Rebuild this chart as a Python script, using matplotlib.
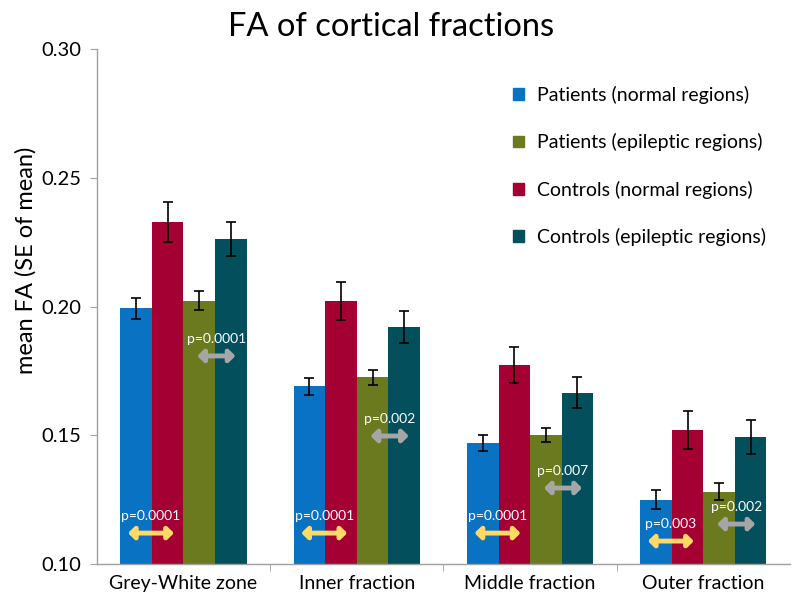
import numpy as np
import matplotlib as mpl
mpl.use("Agg")
import matplotlib.pyplot as plt
from matplotlib.patches import Patch

plt.rcParams["font.family"] = ["Lato", "DejaVu Sans"]

groups = ["Grey-White zone", "Inner fraction", "Middle fraction", "Outer fraction"]

# bar order within each group: patients normal, controls normal, patients epileptic, controls epileptic
pat_normal = [0.1993, 0.1690, 0.1469, 0.1249]
pat_normal_se = [0.0041, 0.0034, 0.0031, 0.0037]
ctl_normal = [0.2327, 0.2021, 0.1773, 0.1522]
ctl_normal_se = [0.0078, 0.0073, 0.0069, 0.0074]
pat_epi = [0.2023, 0.1725, 0.1502, 0.1281]
pat_epi_se = [0.0038, 0.0030, 0.0028, 0.0032]
ctl_epi = [0.2263, 0.1920, 0.1665, 0.1493]
ctl_epi_se = [0.0067, 0.0063, 0.0061, 0.0065]

# p-values: normal-region comparison (yellow) and epileptic-region comparison (grey)
p_normal = ["p=0.0001", "p=0.0001", "p=0.0001", "p=0.003"]
p_normal_y = [0.1120, 0.1120, 0.1120, 0.1089]
p_epi = ["p=0.0001", "p=0.002", "p=0.007", "p=0.002"]
p_epi_y = [0.1808, 0.1497, 0.1295, 0.1155]

c_blue = "#0A72C2"
c_red = "#A50034"
c_green = "#6B7A1F"
c_teal = "#03505C"
c_yellow = "#FFD966"
c_grey = "#A6A6A6"
c_axis = "#A0A0A0"

fig = plt.figure(figsize=(8.0, 6.03), dpi=100)
ax = fig.add_axes([0.121, 0.0647, 0.8665, 0.854])

x = np.arange(len(groups))
w = 0.182
series = [
    (pat_normal, pat_normal_se, c_blue),
    (ctl_normal, ctl_normal_se, c_red),
    (pat_epi, pat_epi_se, c_green),
    (ctl_epi, ctl_epi_se, c_teal),
]
for k, (vals, se, col) in enumerate(series):
    ax.bar(x + (k - 1.5) * w, vals, w, color=col, zorder=2)
    ax.errorbar(x + (k - 1.5) * w, vals, yerr=se, fmt="none", ecolor="black",
                elinewidth=1.2, capsize=3.5, capthick=1.2, zorder=3)

def p_arrow(x0, x1, y, col, label):
    ax.annotate("", xy=(x0, y), xytext=(x1, y),
                arrowprops=dict(arrowstyle="<|-|>,head_length=0.35,head_width=0.35",
                                color=col, lw=3.5, mutation_scale=10,
                                shrinkA=0, shrinkB=0), zorder=4)
    ax.text((x0 + x1) / 2, y + 0.0042, label, color="white", fontsize=10,
            ha="center", va="bottom", zorder=5)

for i in range(len(groups)):
    p_arrow(i - 0.32, i - 0.055, p_normal_y[i], c_yellow, p_normal[i])
    p_arrow(i + 0.08, i + 0.30, p_epi_y[i], c_grey, p_epi[i])

ax.set_xlim(-0.5, 3.5)
ax.set_ylim(0.10, 0.30)
ax.set_yticks([0.10, 0.15, 0.20, 0.25, 0.30])
ax.set_yticklabels(["0.10", "0.15", "0.20", "0.25", "0.30"])
ax.set_xticks(x)
ax.set_xticklabels(groups, fontsize=14)
ax.set_xticks([0.5, 1.5, 2.5], minor=True)
ax.tick_params(axis="x", which="major", length=0, pad=8)
ax.tick_params(axis="x", which="minor", length=5, color=c_axis, direction="out")
ax.tick_params(axis="y", length=5, color=c_axis, labelsize=14.5, pad=6)

for s in ["top", "right"]:
    ax.spines[s].set_visible(False)
for s in ["left", "bottom"]:
    ax.spines[s].set_color(c_axis)
    ax.spines[s].set_linewidth(1)

ax.set_ylabel("mean FA (SE of mean)", fontsize=17)
ax.yaxis.set_label_coords(-0.087, 0.59)
fig.text(0.489, 0.955, "FA of cortical fractions", fontsize=23.5, ha="center", va="center")

handles = [Patch(color=c_blue), Patch(color=c_green), Patch(color=c_red), Patch(color=c_teal)]
labels = ["Patients (normal regions)", "Patients (epileptic regions)",
          "Controls (normal regions)", "Controls (epileptic regions)"]
ax.legend(handles, labels, loc="upper left", bbox_to_anchor=(0.575, 0.962),
          frameon=False, fontsize=14, handlelength=0.55, handleheight=0.55,
          handletextpad=0.7, labelspacing=1.5)

fig.savefig("out.png", dpi=100)
